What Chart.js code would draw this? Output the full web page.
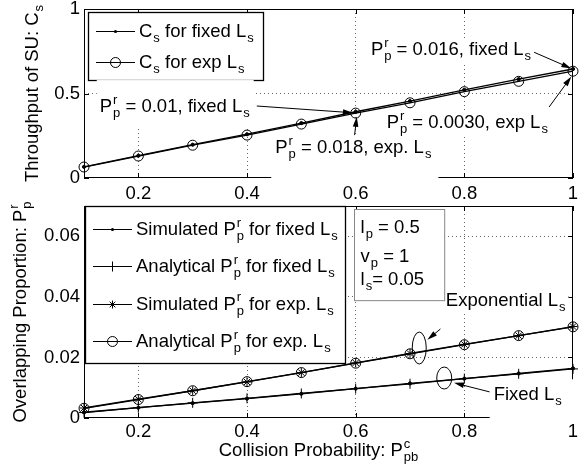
<!DOCTYPE html>
<html>
<head>
<meta charset="utf-8">
<script src="https://cdn.jsdelivr.net/npm/chart.js@4.4.0/dist/chart.umd.min.js"></script>
<style>
  body { margin: 0; background: #fff; width: 579px; height: 472px; position: relative; overflow: hidden; }
  #topChart { position: absolute; left: 0; top: 0; }
  #botChart { position: absolute; left: 0; top: 196px; }
</style>
</head>
<body>
<canvas id="topChart" width="579" height="215"></canvas>
<canvas id="botChart" width="579" height="276"></canvas>
<script>
// collision probability P^c_pb
var xVals = [0.1, 0.2, 0.3, 0.4, 0.5, 0.6, 0.7, 0.8, 0.9, 1.0];
var xTicks = [0.2, 0.4, 0.6, 0.8, 1];

// top panel: throughput C_s
var csFixed = [0.066, 0.132, 0.197, 0.259, 0.325, 0.392, 0.455, 0.522, 0.585, 0.645];
var csExp   = [0.065, 0.130, 0.194, 0.254, 0.319, 0.384, 0.445, 0.511, 0.572, 0.632];
var topYTicks = [0, 0.5, 1];

// bottom panel: overlapping proportion P^r_p
var simFixed = [0.0019, 0.0034, 0.0049, 0.0064, 0.0080, 0.0097, 0.0114, 0.0130, 0.0147, 0.0164];
var anaFixed = [0.0018, 0.0034, 0.0050, 0.0065, 0.0081, 0.0097, 0.0113, 0.0130, 0.0146, 0.0162];
var simExp   = [0.0033, 0.0062, 0.0090, 0.0119, 0.0150, 0.0182, 0.0213, 0.0243, 0.0272, 0.0302];
var anaExp   = [0.0032, 0.0061, 0.0090, 0.0120, 0.0150, 0.0181, 0.0212, 0.0242, 0.0272, 0.0301];
var botYTicks = [0, 0.02, 0.04, 0.06];

var FONT = "'Liberation Sans', Arial, Helvetica, sans-serif";
var FS = 18.5;
Chart.defaults.font.family = FONT;
Chart.defaults.color = '#000';

function pts(ys) {
  return xVals.map(function (x, i) { return { x: x, y: ys[i] }; });
}

// split "P^{r}_{p} = 0.01" into text runs and stacked sub/superscripts
function richTokens(str) {
  var out = [], buf = '';
  for (var i = 0; i < str.length; i++) {
    var c = str[i];
    if ((c === '_' || c === '^') && str[i + 1] === '{') {
      var end = str.indexOf('}', i);
      var key = c === '_' ? 'sub' : 'sup';
      if (buf) { out.push({ text: buf }); buf = ''; }
      var last = out[out.length - 1];
      if (last && last.script && last[key] === undefined) last[key] = str.slice(i + 2, end);
      else { var t = { script: true }; t[key] = str.slice(i + 2, end); out.push(t); }
      i = end;
    } else buf += c;
  }
  if (buf) out.push({ text: buf });
  return out;
}

function drawRich(ctx, str, x, y, size, align, pad) {
  var small = Math.round(size * 0.72);
  var big = size + 'px ' + FONT, little = small + 'px ' + FONT;
  var toks = richTokens(str), total = 0;
  toks.forEach(function (t) {
    if (t.text !== undefined) { ctx.font = big; t.w = ctx.measureText(t.text).width; }
    else {
      ctx.font = little;
      t.w = Math.max(t.sup ? ctx.measureText(t.sup).width : 0, t.sub ? ctx.measureText(t.sub).width : 0) + 1;
    }
    total += t.w;
  });
  var cx = align === 'center' ? x - total / 2 : align === 'right' ? x - total : x;
  if (pad) {
    ctx.fillStyle = '#fff';
    ctx.fillRect(cx - pad[0], y - size * 0.75 - pad[1], total + pad[0] + pad[2], size * 0.75 + pad[1] + pad[3]);
  }
  ctx.textAlign = 'left';
  ctx.textBaseline = 'alphabetic';
  ctx.fillStyle = '#000';
  toks.forEach(function (t) {
    if (t.text !== undefined) { ctx.font = big; ctx.fillText(t.text, cx, y); }
    else {
      ctx.font = little;
      if (t.sup) ctx.fillText(t.sup, cx + 1, y - size * 0.45);
      if (t.sub) ctx.fillText(t.sub, cx + 1, y + size * 0.28);
    }
    cx += t.w;
  });
  return total;
}

function drawMarker(ctx, style, x, y) {
  ctx.save();
  ctx.strokeStyle = '#000';
  ctx.fillStyle = '#000';
  ctx.lineWidth = 1;
  ctx.beginPath();
  if (style === 'dot') {
    ctx.arc(x, y, 1.6, 0, Math.PI * 2); ctx.fill();
  } else if (style === 'circle') {
    ctx.arc(x, y, 5, 0, Math.PI * 2); ctx.stroke();
  } else if (style === 'cross') {
    ctx.moveTo(x - 5, y); ctx.lineTo(x + 5, y); ctx.moveTo(x, y - 5); ctx.lineTo(x, y + 5); ctx.stroke();
  } else if (style === 'star') {
    for (var k = 0; k < 4; k++) {
      var a = k * Math.PI / 4;
      ctx.moveTo(x - 4 * Math.cos(a), y - 4 * Math.sin(a));
      ctx.lineTo(x + 4 * Math.cos(a), y + 4 * Math.sin(a));
    }
    ctx.stroke();
  }
  ctx.restore();
}

function arrow(ctx, x1, y1, x2, y2) {
  var a = Math.atan2(y2 - y1, x2 - x1), L = 10, W = 2.8;
  ctx.save();
  ctx.strokeStyle = '#000'; ctx.fillStyle = '#000'; ctx.lineWidth = 1;
  ctx.beginPath(); ctx.moveTo(x1, y1); ctx.lineTo(x2 - L * 0.8 * Math.cos(a), y2 - L * 0.8 * Math.sin(a)); ctx.stroke();
  ctx.beginPath();
  ctx.moveTo(x2, y2);
  ctx.lineTo(x2 - L * Math.cos(a) + W * Math.sin(a), y2 - L * Math.sin(a) - W * Math.cos(a));
  ctx.lineTo(x2 - L * Math.cos(a) - W * Math.sin(a), y2 - L * Math.sin(a) + W * Math.cos(a));
  ctx.closePath(); ctx.fill();
  ctx.restore();
}

// frame, inward ticks, legend, axis titles and notes for one panel
function panelPlugin(cfg) {
  return {
    id: 'panel',
    afterDatasetsDraw: function (chart) {
      var ctx = chart.ctx, a = chart.chartArea, xs = chart.scales.x, ys = chart.scales.y;
      ctx.save();
      ctx.strokeStyle = '#000';
      ctx.lineWidth = 1;
      ctx.strokeRect(a.left + 0.5, a.top + 0.5, a.right - a.left - 1, a.bottom - a.top - 1);
      ctx.beginPath();
      xTicks.forEach(function (v) {
        var px = Math.round(xs.getPixelForValue(v)) + 0.5;
        ctx.moveTo(px, a.bottom); ctx.lineTo(px, a.bottom - 5);
        ctx.moveTo(px, a.top); ctx.lineTo(px, a.top + 5);
      });
      cfg.yTicks.forEach(function (v) {
        var py = Math.round(ys.getPixelForValue(v)) + 0.5;
        ctx.moveTo(a.left, py); ctx.lineTo(a.left + 5, py);
        ctx.moveTo(a.right, py); ctx.lineTo(a.right - 5, py);
      });
      ctx.stroke();
      ctx.restore();
    },
    afterDraw: function (chart) {
      var ctx = chart.ctx, a = chart.chartArea, xs = chart.scales.x, ys = chart.scales.y;
      function X(v) { return xs.getPixelForValue(v); }
      function Y(v) { return ys.getPixelForValue(v); }
      // legend
      var lg = cfg.legend;
      ctx.save();
      ctx.fillStyle = '#fff';
      ctx.fillRect(lg.x, lg.y, lg.w, lg.h);
      ctx.strokeStyle = '#000'; ctx.lineWidth = 1.3;
      ctx.strokeRect(lg.x + 0.5, lg.y + 0.5, lg.w, lg.h);
      chart.data.datasets.forEach(function (ds, i) {
        var base = lg.y + lg.first + i * lg.step;
        var ly = Math.round(base - 6) + 0.5;
        ctx.strokeStyle = '#000'; ctx.lineWidth = 1;
        ctx.beginPath(); ctx.moveTo(lg.x + 8, ly); ctx.lineTo(lg.x + 47, ly); ctx.stroke();
        drawMarker(ctx, ds.marker, lg.x + 27.5, ly);
        drawRich(ctx, ds.label, lg.x + 51, base, FS, 'left');
      });
      ctx.restore();
      // notes
      ctx.save();
      (cfg.ellipses || []).forEach(function (e) {
        ctx.strokeStyle = '#000'; ctx.lineWidth = 1;
        ctx.beginPath(); ctx.ellipse(X(e.x), Y(e.y), e.rx, e.ry, 0, 0, Math.PI * 2); ctx.stroke();
      });
      cfg.arrows.forEach(function (r) { arrow(ctx, X(r[0]), Y(r[1]), X(r[2]), Y(r[3])); });
      cfg.notes.forEach(function (n) { drawRich(ctx, n.text, X(n.x), Y(n.y), FS, 'left', n.pad); });
      if (cfg.box) {
        var b = cfg.box;
        ctx.fillStyle = '#fff';
        ctx.fillRect(X(b.x0), Y(b.y0), X(b.x1) - X(b.x0), Y(b.y1) - Y(b.y0));
        ctx.strokeStyle = '#888'; ctx.lineWidth = 1;
        ctx.strokeRect(Math.round(X(b.x0)) + 0.5, Math.round(Y(b.y0)) + 0.5, X(b.x1) - X(b.x0), Y(b.y1) - Y(b.y0));
        b.lines.forEach(function (l) { drawRich(ctx, l.text, X(b.tx), Y(l.y), FS, 'left'); });
      }
      // axis titles
      ctx.save();
      ctx.translate(cfg.yTitleX, (a.top + a.bottom) / 2);
      ctx.rotate(-Math.PI / 2);
      drawRich(ctx, cfg.yTitle, 0, 0, FS, 'center');
      ctx.restore();
      if (cfg.xTitle) drawRich(ctx, cfg.xTitle, (a.left + a.right) / 2 - 10, cfg.xTitleY, FS, 'center');
      ctx.restore();
    }
  };
}

function scalesFor(yMax, yTicks, xHeight, xPad) {
  return {
    x: {
      type: 'linear', min: 0.1, max: 1,
      afterBuildTicks: function (s) { s.ticks = xTicks.map(function (v) { return { value: v }; }); },
      afterFit: function (s) { s.height = xHeight; s.paddingLeft = 0; s.paddingRight = 0; },
      ticks: { font: { size: FS }, padding: xPad, maxRotation: 0, autoSkip: false, callback: function (v) { return String(v); } },
      grid: {
        drawTicks: false,
        color: function (c) { return c.tick && c.tick.value > 0.1 && c.tick.value < 1 ? '#666' : 'rgba(0,0,0,0)'; }
      },
      border: { display: false, dash: [1, 3] }
    },
    y: {
      type: 'linear', min: 0, max: yMax,
      afterBuildTicks: function (s) { s.ticks = yTicks.map(function (v) { return { value: v }; }); },
      afterFit: function (s) { s.width = 84; s.paddingTop = 0; s.paddingBottom = 0; },
      ticks: { font: { size: FS }, padding: 4, callback: function (v) { return String(v); } },
      grid: {
        drawTicks: false,
        color: function (c) { return c.tick && c.tick.value > 0 && c.tick.value < yMax ? '#666' : 'rgba(0,0,0,0)'; }
      },
      border: { display: false, dash: [1, 3] }
    }
  };
}

function series(label, ys, marker, pointStyle, radius) {
  return {
    label: label, data: pts(ys), marker: marker,
    showLine: true, borderColor: '#000', borderWidth: 1.3,
    pointStyle: pointStyle, pointRadius: radius, pointBorderWidth: 1,
    pointBorderColor: '#000', pointBackgroundColor: marker === 'dot' ? '#000' : 'rgba(0,0,0,0)',
    clip: false
  };
}

new Chart(document.getElementById('topChart'), {
  type: 'scatter',
  data: {
    datasets: [
      series('C_{s} for fixed L_{s}', csFixed, 'dot', 'circle', 1.6),
      series('C_{s} for exp L_{s}', csExp, 'circle', 'circle', 5)
    ]
  },
  options: {
    responsive: false, animation: false, devicePixelRatio: 1,
    layout: { padding: { top: 9, right: 2, left: 0, bottom: 0 } },
    plugins: { legend: { display: false }, tooltip: { enabled: false } },
    scales: scalesFor(1, topYTicks, 37, 5)
  },
  plugins: [panelPlugin({
    yTicks: topYTicks,
    legend: { x: 88, y: 12, w: 175, h: 68, first: 25, step: 31 },
    yTitle: 'Throughput of SU: C_{s}', yTitleX: 38,
    arrows: [
      [0.418, 0.426, 0.595, 0.386],
      [0.598, 0.254, 0.602, 0.362],
      [0.927, 0.746, 0.997, 0.648],
      [0.956, 0.420, 0.997, 0.600]
    ],
    notes: [
      { text: 'P^{r}_{p} = 0.01, fixed L_{s}', x: 0.129, y: 0.391, pad: [3, 18, 4, 15] },
      { text: 'P^{r}_{p} = 0.018, exp. L_{s}', x: 0.452, y: 0.148, pad: [4, 3, 7, 27] },
      { text: 'P^{r}_{p} = 0.016, fixed L_{s}', x: 0.628, y: 0.728, pad: [3, 3, 3, 8] },
      { text: 'P^{r}_{p} = 0.0030, exp L_{s}', x: 0.657, y: 0.296, pad: [3, 3, 3, 8] }
    ]
  })]
});

new Chart(document.getElementById('botChart'), {
  type: 'scatter',
  data: {
    datasets: [
      series('Simulated P^{r}_{p} for fixed L_{s}', simFixed, 'dot', 'circle', 1.6),
      series('Analytical P^{r}_{p} for fixed L_{s}', anaFixed, 'cross', 'cross', 5),
      series('Simulated P^{r}_{p} for exp. L_{s}', simExp, 'star', 'star', 4.5),
      series('Analytical P^{r}_{p} for exp. L_{s}', anaExp, 'circle', 'circle', 5)
    ]
  },
  options: {
    responsive: false, animation: false, devicePixelRatio: 1,
    layout: { padding: { top: 10, right: 2, left: 0, bottom: 0 } },
    plugins: { legend: { display: false }, tooltip: { enabled: false } },
    scales: scalesFor(0.07, botYTicks, 54, 3)
  },
  plugins: [panelPlugin({
    yTicks: botYTicks,
    legend: { x: 85, y: 10, w: 260, h: 157, first: 29, step: 37.3 },
    yTitle: 'Overlapping Proportion: P^{r}_{p}', yTitleX: 26,
    xTitle: 'Collision Probability: P^{c}_{pb}', xTitleY: 260,
    ellipses: [
      { x: 0.717, y: 0.0231, rx: 7, ry: 16 },
      { x: 0.763, y: 0.0132, rx: 7.5, ry: 11 }
    ],
    arrows: [
      [0.756, 0.0294, 0.732, 0.0258],
      [0.847, 0.0086, 0.781, 0.0116]
    ],
    notes: [
      { text: 'Exponential L_{s}', x: 0.766, y: 0.0370, pad: [3, 3, 3, 8] },
      { text: 'Fixed L_{s}', x: 0.854, y: 0.0059, pad: [4, 7, 16, 20] }
    ],
    box: {
      x0: 0.597, x1: 0.763, y0: 0.0690, y1: 0.0389, tx: 0.609,
      lines: [
        { text: 'l_{p} = 0.5', y: 0.0611 },
        { text: 'v_{p} = 1', y: 0.0515 },
        { text: 'l_{s}= 0.05', y: 0.0439 }
      ]
    }
  })]
});
</script>
</body>
</html>
